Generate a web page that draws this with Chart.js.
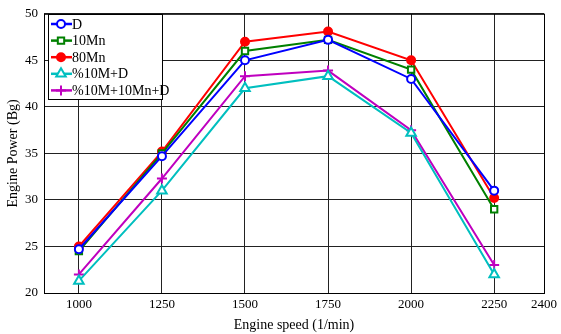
<!DOCTYPE html>
<html><head><meta charset="utf-8">
<script src="https://cdn.jsdelivr.net/npm/chart.js@4"></script>
<style>html,body{margin:0;padding:0;background:#fff}#wrap{width:561px;height:334px}</style>
</head><body><div id="wrap"><canvas id="c" width="561" height="334"></canvas></div>
<script>
const speeds = [1000, 1250, 1500, 1750, 2000, 2250];
const xTicks = [1000, 1250, 1500, 1750, 2000, 2250, 2400];
const seriesNames = ['D', '10Mn', '80Mn', '%10M+D', '%10M+10Mn+D'];
const powerD = [24.7, 34.7, 45.0, 47.2, 43.0, 31.0];
const power10Mn = [24.5, 35.0, 46.0, 47.2, 44.0, 29.0];
const power80Mn = [25.0, 35.2, 47.0, 48.1, 45.0, 30.2];
const power10MD = [21.3, 31.0, 42.0, 43.3, 37.2, 22.0];
const power10M10MnD = [22.0, 32.3, 43.3, 43.9, 37.5, 23.0];

const styles = [
  {c:'#0000ff', ps:'circle', r:4, bg:'#ffffff'},
  {c:'#008000', ps:'rect', r:4.5, bg:'#ffffff'},
  {c:'#ff0000', ps:'circle', r:4, bg:'#ff0000'},
  {c:'#00bfbf', ps:'triangle', r:5.5, bg:'#ffffff'},
  {c:'#bf00bf', ps:'cross', r:5, bg:'#bf00bf'}
];
const allSeries = [powerD, power10Mn, power80Mn, power10MD, power10M10MnD];
const FONT = "'Liberation Serif', 'Times New Roman', serif";

const datasets = allSeries.map((vals, i) => ({
  label: seriesNames[i],
  data: speeds.map((s, j) => ({x: s, y: vals[j]})),
  borderColor: styles[i].c,
  backgroundColor: styles[i].bg,
  borderWidth: 2,
  pointStyle: styles[i].ps,
  pointRadius: styles[i].r,
  pointBorderWidth: 2,
  pointBorderColor: styles[i].c,
  pointBackgroundColor: styles[i].bg,
  tension: 0
}));

const legendPlugin = {
  id: 'boxLegend',
  afterDraw(chart) {
    const ctx = chart.ctx;
    const x0 = 48, y0 = 14, w = 114, h = 85;
    ctx.save();
    ctx.fillStyle = '#fff';
    ctx.fillRect(x0, y0, w, h);
    ctx.strokeStyle = '#000';
    ctx.lineWidth = 1;
    ctx.strokeRect(x0 + 0.5, y0 + 0.5, w, h);
    chart.data.datasets.forEach((ds, i) => {
      const yc = y0 + 10 + i * 16.6;
      ctx.strokeStyle = ds.borderColor;
      ctx.lineWidth = 2.5;
      ctx.beginPath(); ctx.moveTo(x0 + 3, yc); ctx.lineTo(x0 + 24, yc); ctx.stroke();
      ctx.fillStyle = ds.pointBackgroundColor;
      ctx.lineWidth = 2;
      Chart.helpers.drawPoint(ctx, {pointStyle: ds.pointStyle, radius: ds.pointRadius, borderWidth: 2}, x0 + 13, yc);
      ctx.fillStyle = '#000';
      ctx.font = '14px ' + FONT;
      ctx.textBaseline = 'middle';
      ctx.textAlign = 'left';
      ctx.fillText(ds.label, x0 + 24, yc + 1);
    });
    ctx.restore();
  }
};

const borderPlugin = {
  id: 'frame',
  afterDatasetsDraw(chart) {
    const a = chart.chartArea, ctx = chart.ctx;
    ctx.save();
    ctx.strokeStyle = '#000'; ctx.lineWidth = 1;
    ctx.strokeRect(a.left + 0.5, a.top + 0.5, a.right - a.left, a.bottom - a.top);
    ctx.restore();
  }
};

new Chart(document.getElementById('c'), {
  type: 'line',
  data: {datasets},
  plugins: [legendPlugin, borderPlugin],
  options: {
    responsive: false,
    animation: false,
    layout: {padding: {left: 5, right: 12, top: 11, bottom: 0}},
    plugins: {legend: {display: false}, tooltip: {enabled: false}},
    scales: {
      x: {
        type: 'linear', min: 895, max: 2400,
        afterBuildTicks: s => { s.ticks = xTicks.map(v => ({value: v})); },
        afterFit: s => { s.height = 41; },
        grid: {color: '#222', lineWidth: 1, drawTicks: false},
        border: {display: false},
        ticks: {color: '#000', font: {family: FONT, size: 13}, padding: 4, maxRotation: 0,
          callback: v => String(v)},
        title: {display: true, text: 'Engine speed (1/min)', color: '#000', font: {family: FONT, size: 14}, padding: {top: 2, bottom: 0}}
      },
      y: {
        min: 20, max: 50,
        afterFit: s => { s.width = 39; },
        grid: {color: '#222', lineWidth: 1, drawTicks: false},
        border: {display: false},
        ticks: {stepSize: 5, color: '#000', font: {family: FONT, size: 13}, padding: 6},
        title: {display: true, text: 'Engine Power (Bg)', color: '#000', font: {family: FONT, size: 14}, padding: {top: 0, bottom: 2}}
      }
    }
  }
});
</script></body></html>
